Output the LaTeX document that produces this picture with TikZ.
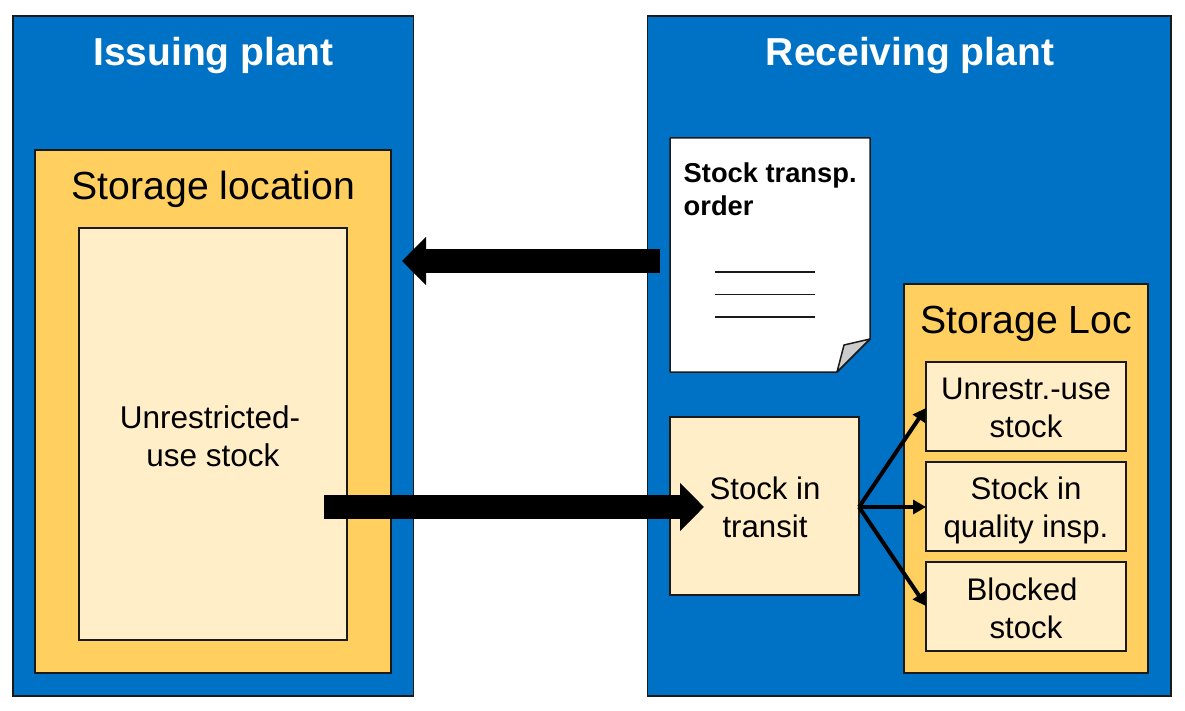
\documentclass[tikz,border=0pt]{standalone}
\usepackage{fontspec}
\setmainfont{Liberation Sans}
\usetikzlibrary{arrows.meta}
\definecolor{plantblue}{HTML}{0072C6}
\definecolor{locorange}{HTML}{FFCF5F}
\definecolor{stockcream}{HTML}{FFEEC8}
\definecolor{foldgray}{HTML}{CCCCCC}
\definecolor{edgeblack}{HTML}{1A1A1A}
\tikzset{
  boxbase/.style={draw=edgeblack,line width=1.3pt,inner sep=0pt,outer sep=0pt,align=center,text=black},
  plantbox/.style={boxbase,fill=plantblue},
  locbox/.style={boxbase,fill=locorange},
  stockbox/.style={boxbase,fill=stockcream},
  titletext/.style={inner sep=0pt,text=white,font=\fontsize{39}{39}\selectfont\bfseries},
  loctext/.style={inner sep=0pt,text=black,font=\fontsize{39.2}{39}\selectfont},
  bodytext/.style={inner sep=0pt,text=black,align=center,font=\fontsize{31.2}{37.5}\selectfont},
  doctext/.style={inner sep=0pt,text=black,align=left,font=\fontsize{27.3}{33}\selectfont\bfseries},
  bigarrow/.style={line width=24pt,draw=black,-{Triangle[length=24pt,width=47pt]}},
  thinarrow/.style={line width=4pt,draw=black,-{Triangle[length=13pt,width=14pt]}},
  docline/.style={line width=1.6pt,draw=edgeblack},
}
\begin{document}
\begin{tikzpicture}[x=1pt,y=-1pt]
\useasboundingbox (0,0) rectangle (1185,711);
% plants
\node[plantbox,minimum width=400.5pt,minimum height=680pt] (issuing) at (213.2,356) {};
\node[plantbox,minimum width=523.5pt,minimum height=680pt] (receiving) at (909.25,356) {};
\node[titletext] (issuingtitle) at (213.5,55.5) {Issuing plant};
\node[titletext] (receivingtitle) at (910,55.5) {Receiving plant};
% issuing storage
\node[locbox,minimum width=356pt,minimum height=523pt] (sloc) at (213,411.5) {};
\node[loctext] (sloctitle) at (213.5,189.5) {Storage location};
\node[stockbox,minimum width=268pt,minimum height=412pt] (unres) at (213,434) {};
\node[bodytext,font=\fontsize{31.5}{37.5}\selectfont] (unrestext) at (213,436) {Unrestricted-\hspace*{6pt}\\use stock};
% document
\coordinate (dnw) at (670,138);
\coordinate (dne) at (870,138);
\coordinate (dfr) at (870,339);
\coordinate (dfb) at (837,372);
\coordinate (dsw) at (670,372);
\coordinate (dfc) at (844,345);
\draw[line width=1.5pt,draw=edgeblack,fill=white,line join=round] (dnw) -- (dne) -- (dfr) -- (dfb) -- (dsw) -- cycle;
\draw[line width=1.5pt,draw=edgeblack,fill=foldgray,line join=round] (dfb) -- (dfc) -- (dfr) -- cycle;
\node[doctext,anchor=north west] (doctitle) at (683.5,162.5) {Stock transp.\\order};
\coordinate (l1a) at (715,272); \coordinate (l1b) at (815,272);
\coordinate (l2a) at (715,294.3); \coordinate (l2b) at (815,294.3);
\coordinate (l3a) at (715,317); \coordinate (l3b) at (815,317);
\draw[docline] (l1a) -- (l1b);
\draw[docline] (l2a) -- (l2b);
\draw[docline] (l3a) -- (l3b);
% transit
\node[stockbox,minimum width=189pt,minimum height=178pt] (transit) at (764.5,506) {};
\node[bodytext] (transittext) at (765,507.5) {Stock in\\transit};
% receiving storage
\node[locbox,minimum width=244pt,minimum height=389pt] (rloc) at (1026,478.5) {};
\node[loctext] (rloctitle) at (1026.5,324) {Storage Loc};
\node[stockbox,minimum width=200pt,minimum height=89pt] (ur) at (1026,406.5) {};
\node[bodytext] (urtext) at (1026,408) {Unrestr.-use\\stock};
\node[stockbox,minimum width=200pt,minimum height=89pt] (qi) at (1026,506.5) {};
\node[bodytext] (qitext) at (1026,510.5) {Stock in\\quality insp.};
\node[stockbox,minimum width=200pt,minimum height=89pt] (bl) at (1026,606.5) {};
\node[bodytext] (bltext) at (1026,608.5) {Blocked\hspace*{8pt}\\stock};
% big arrows
\coordinate (ordfrom) at (660,261);
\coordinate (ordto) at (402,261);
\coordinate (stockfrom) at (324,507);
\coordinate (stockto) at (704,507);
\draw[bigarrow] (ordfrom) -- (ordto);
\draw[bigarrow] (stockfrom) -- (stockto);
% small arrows
\coordinate (fan) at (859,507);
\coordinate (urto) at (926,408);
\coordinate (qito) at (926,507);
\coordinate (blto) at (926,606);
\draw[thinarrow] (fan) -- (urto);
\draw[thinarrow] (fan) -- (qito);
\draw[thinarrow] (fan) -- (blto);
\end{tikzpicture}
\end{document}
